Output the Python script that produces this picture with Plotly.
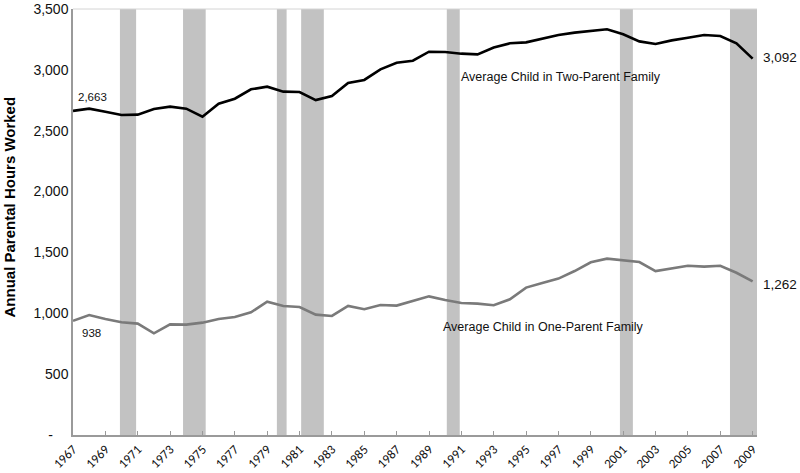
import plotly.graph_objects as go

years = list(range(1967, 2010))
two_parent = [2663, 2681, 2656, 2629, 2632, 2678, 2698, 2681, 2615, 2722,
              2763, 2840, 2862, 2821, 2818, 2752, 2785, 2892, 2917, 3004,
              3059, 3075, 3149, 3147, 3133, 3127, 3183, 3218, 3226, 3259,
              3286, 3306, 3322, 3333, 3292, 3234, 3212, 3242, 3264, 3286,
              3278, 3218, 3092]
one_parent = [938, 986, 953, 926, 915, 835, 909, 907, 923, 953,
              970, 1008, 1095, 1060, 1052, 989, 978, 1060, 1033, 1068,
              1063, 1101, 1139, 1109, 1085, 1079, 1066, 1115, 1211, 1249,
              1285, 1347, 1419, 1449, 1432, 1421, 1347, 1372, 1391, 1383,
              1391, 1333, 1262]
rec_start = [1969.9, 1973.8, 1979.6, 1981.1, 1990.1, 2000.8, 2007.6]
rec_end = [1970.9, 1975.2, 1980.2, 1982.5, 1990.9, 2001.6, 2009.3]
y_ticks = [0, 500, 1000, 1500, 2000, 2500, 3000, 3500]
y_ticktext = ["-\u00a0\u00a0\u00a0\u00a0", "500", "1,000", "1,500", "2,000", "2,500", "3,000", "3,500"]
x_ticks = list(range(1967, 2010, 2))

font = "Liberation Sans, Arial, Helvetica, sans-serif"

fig = go.Figure()
fig.add_trace(go.Scatter(x=years, y=two_parent, mode="lines",
                         line=dict(color="#000000", width=2.6), hoverinfo="skip"))
fig.add_trace(go.Scatter(x=years, y=one_parent, mode="lines",
                         line=dict(color="#7a7a7a", width=2.6), hoverinfo="skip"))

shapes = []
for s, e in zip(rec_start, rec_end):
    shapes.append(dict(type="rect", xref="x", yref="paper", x0=s, x1=e, y0=0, y1=1,
                       fillcolor="#c2c2c2", line=dict(width=0), layer="below"))
shapes.append(dict(type="line", xref="paper", yref="paper", x0=0, x1=1, y0=1, y1=1,
                   line=dict(color="#d4d4d4", width=1)))

def fmt(v):
    return f"{v:,}"

annotations = [
    dict(x=years[0], y=two_parent[0], text=fmt(two_parent[0]), showarrow=False,
         xshift=19, yshift=14, font=dict(size=11.5, color="#111", family=font)),
    dict(x=years[0], y=one_parent[0], text=fmt(one_parent[0]), showarrow=False,
         xshift=18, yshift=-12, font=dict(size=11.5, color="#111", family=font)),
    dict(x=years[-1], y=two_parent[-1], text=fmt(two_parent[-1]), showarrow=False,
         xanchor="left", xshift=8, yshift=1, font=dict(size=13.5, color="#111", family=font)),
    dict(x=years[-1], y=one_parent[-1], text=fmt(one_parent[-1]), showarrow=False,
         xanchor="left", xshift=8, yshift=-3, font=dict(size=13.5, color="#111", family=font)),
    dict(x=1990.85, y=2940, text="Average Child in Two-Parent Family", showarrow=False,
         xanchor="left", font=dict(size=12.5, color="#111", family=font)),
    dict(x=1989.73, y=887, text="Average Child in One-Parent Family", showarrow=False,
         xanchor="left", font=dict(size=12.5, color="#111", family=font)),
    dict(xref="paper", yref="paper", x=-0.093, y=0.535, text="<b>Annual Parental Hours Worked</b>",
         textangle=-90, showarrow=False, xanchor="center", yanchor="middle",
         font=dict(size=15, color="#000", family=font)),
]

fig.update_layout(
    width=800, height=473,
    margin=dict(l=73, r=43, t=9, b=38),
    paper_bgcolor="white", plot_bgcolor="white",
    showlegend=False,
    shapes=shapes,
    annotations=annotations,
    xaxis=dict(range=[1967, 2009.27], tickvals=x_ticks, ticktext=[str(t) for t in x_ticks],
               tickangle=-45, ticks="inside", ticklen=4, tickcolor="#999", showgrid=False,
               automargin=False,
               zeroline=False, showline=True, linecolor="#9a9a9a", linewidth=1.5,
               tickfont=dict(size=13, color="#111", family="Carlito, Lato, sans-serif")),
    yaxis=dict(range=[0, 3500], tickvals=y_ticks, ticktext=y_ticktext, ticks="",
               automargin=False,
               showgrid=False, zeroline=False, showline=True, linecolor="#9a9a9a", linewidth=1.5,
               tickfont=dict(size=14, color="#111", family=font)),
)

fig.write_html("out.html", config={"displayModeBar": False},
               post_script="document.body.style.margin='0';document.body.style.padding='0';")
